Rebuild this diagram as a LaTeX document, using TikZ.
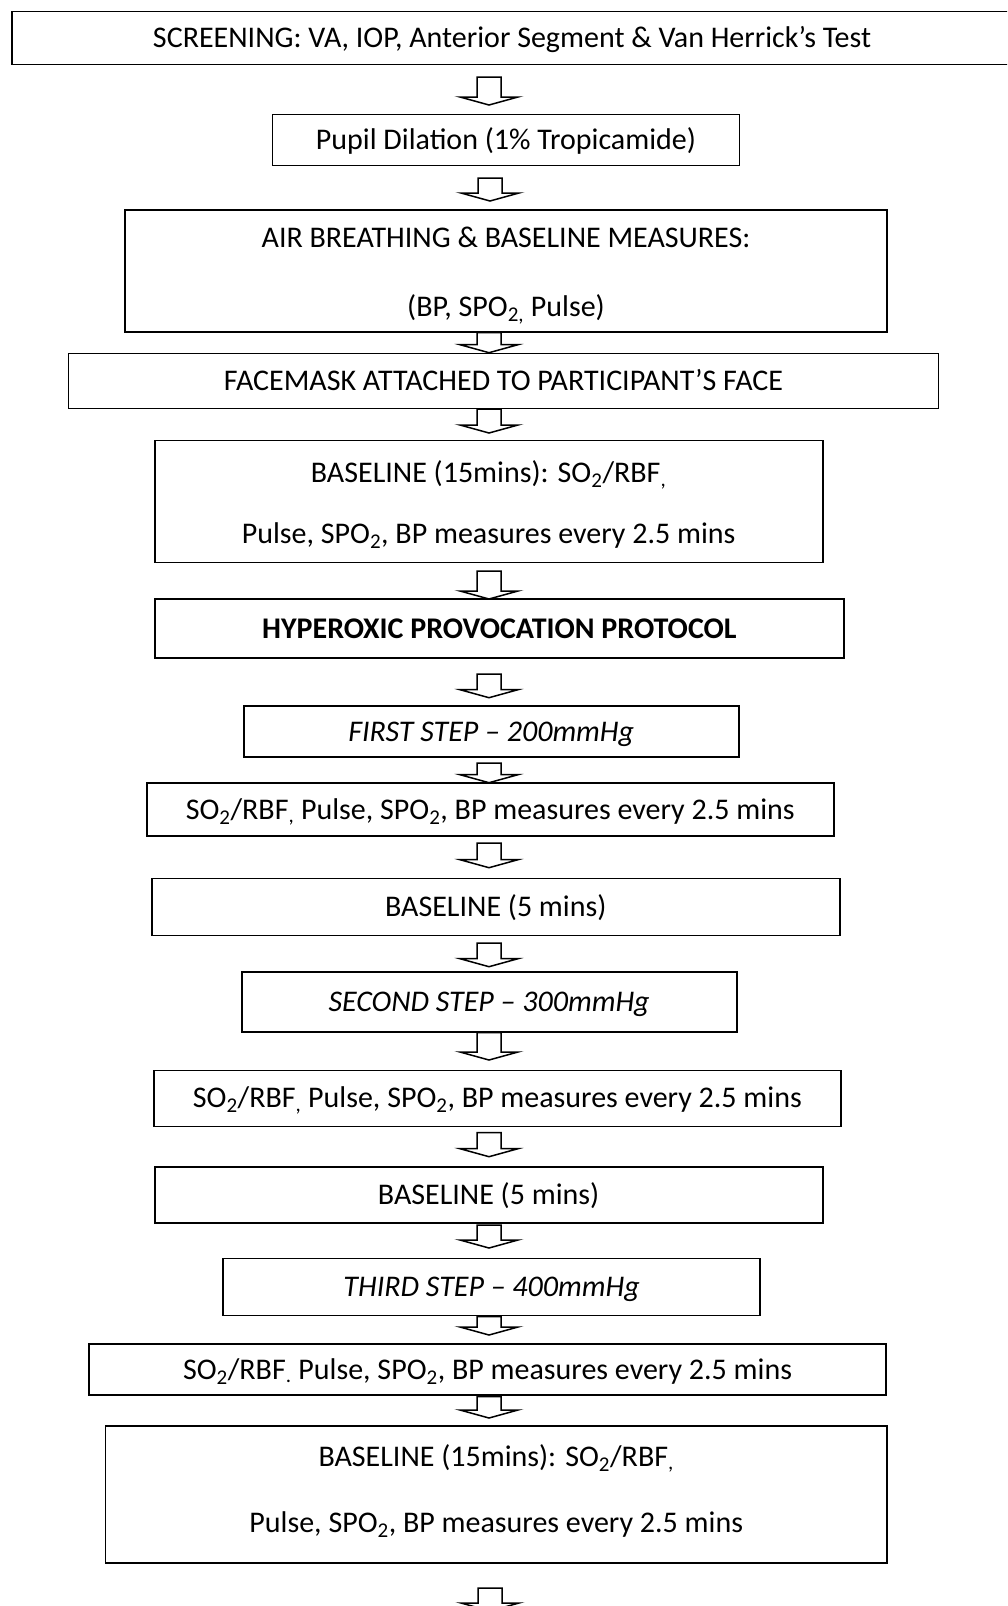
\documentclass[tikz,border=0pt]{standalone}
\usepackage{fontspec}
\setmainfont{Carlito}
\tikzset{
  box/.style={draw, line width=1.8pt, inner sep=0pt, fill=white,
    font=\fontsize{30}{36}\selectfont, text height=19pt, text depth=0pt},
  txt/.style={inner sep=0pt, font=\fontsize{30}{36}\selectfont, text height=19pt, text depth=0pt},
  arr/.style={draw, line width=1.5pt, fill=white, line join=miter},
}
\newcommand\blockarr[3]{%
  \draw[arr] ({#1-12},#2) -- ({#1+12},#2) -- ({#1+12},{#3-8}) -- ({#1+29},{#3-8})
    -- (#1,#3) -- ({#1-29},{#3-8}) -- ({#1-12},{#3-8}) -- cycle;}
\newcommand\sbs[1]{\textsubscript{#1}}
\begin{document}
\begin{tikzpicture}[x=1pt,y=-1pt]
\useasboundingbox (0,0) rectangle (1007,1606);
\clip (0,0) rectangle (1007,1606);
\fill[white] (0,0) rectangle (1007,1606);

\node[box, minimum width=1000pt, minimum height=53pt] (scr) at (512,38)
  {SCREENING: VA, IOP, Anterior Segment \& Van Herrick’s Test};
\node[box, minimum width=467pt, minimum height=51pt] (pup) at (506,140)
  {Pupil Dilation (1\% Tropicamide)};
\node[box, minimum width=762pt, minimum height=122pt] (air) at (506,271) {};
\node[txt] (air1) at (506,237.7) {AIR BREATHING \& BASELINE MEASURES:};
\node[txt] (air2) at (506,307.3) {(BP, SPO\sbs{2,} Pulse)};
\node[box, minimum width=870pt, minimum height=55pt] (face) at (503.5,381)
  {FACEMASK ATTACHED TO PARTICIPANT’S FACE};
\node[box, minimum width=668pt, minimum height=122pt] (bl1) at (488.6,501.5) {};
\node[txt] (bl1a) at (488.6,473.3) {BASELINE (15mins): SO\sbs{2}/RBF\sbs{,}};
\node[txt] (bl1b) at (488.6,533.7) {Pulse, SPO\sbs{2}, BP measures every 2.5 mins};
\node[box, minimum width=689pt, minimum height=59pt, font=\fontsize{30}{36}\selectfont\bfseries] (hyp) at (499.4,628.5)
  {HYPEROXIC PROVOCATION PROTOCOL};
\node[box, minimum width=495pt, minimum height=51pt, font=\fontsize{30}{36}\selectfont\itshape] (st1) at (491.2,731.5)
  {FIRST STEP – 200mmHg};
\node[box, minimum width=687pt, minimum height=53pt] (m1) at (490.2,809.5)
  {SO\sbs{2}/RBF\sbs{,} Pulse, SPO\sbs{2}, BP measures every 2.5 mins};
\node[box, minimum width=688pt, minimum height=57pt] (bl5a) at (495.8,907)
  {BASELINE (5 mins)};
\node[box, minimum width=495pt, minimum height=60pt, font=\fontsize{30}{36}\selectfont\itshape] (st2) at (489.1,1001.7)
  {SECOND STEP – 300mmHg};
\node[box, minimum width=687pt, minimum height=56pt] (m2) at (497.3,1098.4)
  {SO\sbs{2}/RBF\sbs{,} Pulse, SPO\sbs{2}, BP measures every 2.5 mins};
\node[box, minimum width=668pt, minimum height=56pt] (bl5b) at (488.6,1195)
  {BASELINE (5 mins)};
\node[box, minimum width=537pt, minimum height=57pt, font=\fontsize{30}{36}\selectfont\itshape] (st3) at (491.6,1287)
  {THIRD STEP – 400mmHg};
\node[box, minimum width=797pt, minimum height=51pt] (m3) at (487.5,1369.5)
  {SO\sbs{2}/RBF\sbs{.} Pulse, SPO\sbs{2}, BP measures every 2.5 mins};
\node[box, minimum width=781.5pt, minimum height=137pt] (bl2) at (496.2,1494.5) {};
\node[txt] (bl2a) at (496.2,1456.7) {BASELINE (15mins): SO\sbs{2}/RBF\sbs{,}};
\node[txt] (bl2b) at (496.2,1523.3) {Pulse, SPO\sbs{2}, BP measures every 2.5 mins};

\blockarr{489}{77}{105}
\blockarr{490}{178}{201}
\blockarr{489}{332.7}{352.7}
\blockarr{489}{409}{433}
\blockarr{489}{571}{599}
\blockarr{489}{674}{697.7}
\blockarr{489}{763}{782.7}
\blockarr{489}{843}{867.7}
\blockarr{489}{943}{966.7}
\blockarr{489}{1032.7}{1060}
\blockarr{489}{1132.7}{1156.7}
\blockarr{489}{1225}{1248}
\blockarr{489}{1316.7}{1335}
\blockarr{489}{1396.7}{1418}
\blockarr{490}{1588}{1611}
\end{tikzpicture}
\end{document}
